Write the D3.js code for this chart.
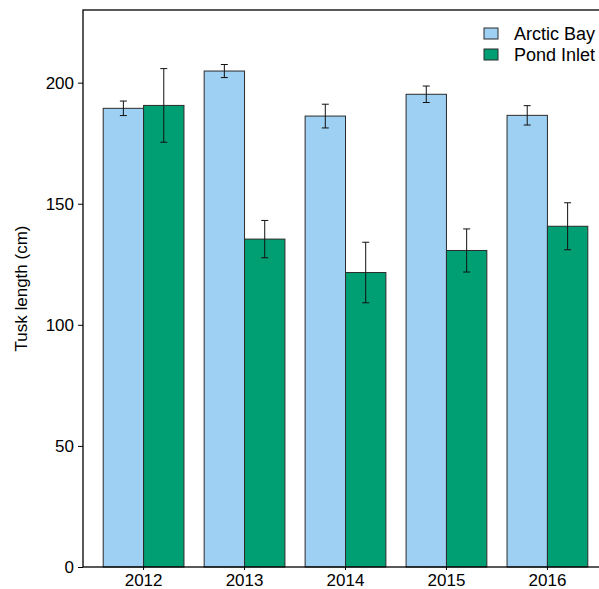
<!DOCTYPE html>
<html>
<head>
<meta charset="utf-8">
<script src="https://cdn.jsdelivr.net/npm/d3@7"></script>
<style>
  html, body { margin: 0; padding: 0; background: #fff; }
  svg { display: block; font-family: "Liberation Sans", Arial, sans-serif; }
</style>
</head>
<body>
<svg id="chart" width="599" height="589"></svg>
<script>
// Mean tusk length by year and community, with standard-error bars
const years = ["2012", "2013", "2014", "2015", "2016"];
const seriesNames = ["Arctic Bay", "Pond Inlet"];
const arcticBay = [189.4, 204.8, 186.2, 195.2, 186.5];
const arcticBayErr = [3.0, 2.7, 4.9, 3.4, 4.0];
const pondInlet = [190.6, 135.4, 121.6, 130.7, 140.7];
const pondInletErr = [15.2, 7.7, 12.5, 8.9, 9.7];
const yTicks = [0, 50, 100, 150, 200];
const colors = ["#9dd0f3", "#009e73"];
const yLabel = "Tusk length (cm)";

const svg = d3.select("#chart");
const plot = { left: 83, top: 10, right: 608, bottom: 567 };

const x = d3.scaleBand()
  .domain(years)
  .range([plot.left, plot.right])
  .paddingInner(0.2)
  .paddingOuter(0.2);

const xSub = d3.scaleBand()
  .domain(seriesNames)
  .range([0, x.bandwidth()]);

const y = d3.scaleLinear()
  .domain([0, 230])
  .range([plot.bottom, plot.top]);

const rows = years.map((yr, i) => ({
  year: yr,
  values: [
    { name: seriesNames[0], v: arcticBay[i], e: arcticBayErr[i], c: colors[0] },
    { name: seriesNames[1], v: pondInlet[i], e: pondInletErr[i], c: colors[1] }
  ]
}));

// bars
const groups = svg.append("g").selectAll("g")
  .data(rows).join("g")
  .attr("transform", d => `translate(${x(d.year)},0)`);

groups.selectAll("rect")
  .data(d => d.values).join("rect")
  .attr("x", d => xSub(d.name))
  .attr("y", d => y(d.v))
  .attr("width", xSub.bandwidth())
  .attr("height", d => y(0) - y(d.v))
  .attr("fill", d => d.c)
  .attr("stroke", "#2b2b2b")
  .attr("stroke-width", 1);

// error bars
const capHalf = 3.5;
const err = groups.selectAll("g.err")
  .data(d => d.values).join("g")
  .attr("class", "err")
  .attr("stroke", "#111")
  .attr("stroke-width", 1);
err.append("line")
  .attr("x1", d => xSub(d.name) + xSub.bandwidth() / 2)
  .attr("x2", d => xSub(d.name) + xSub.bandwidth() / 2)
  .attr("y1", d => y(d.v - d.e))
  .attr("y2", d => y(d.v + d.e));
err.append("line")
  .attr("x1", d => xSub(d.name) + xSub.bandwidth() / 2 - capHalf)
  .attr("x2", d => xSub(d.name) + xSub.bandwidth() / 2 + capHalf)
  .attr("y1", d => y(d.v + d.e))
  .attr("y2", d => y(d.v + d.e));
err.append("line")
  .attr("x1", d => xSub(d.name) + xSub.bandwidth() / 2 - capHalf)
  .attr("x2", d => xSub(d.name) + xSub.bandwidth() / 2 + capHalf)
  .attr("y1", d => y(d.v - d.e))
  .attr("y2", d => y(d.v - d.e));

// plot frame
svg.append("rect")
  .attr("x", plot.left)
  .attr("y", plot.top)
  .attr("width", plot.right - plot.left)
  .attr("height", plot.bottom - plot.top)
  .attr("fill", "none")
  .attr("stroke", "#000")
  .attr("stroke-width", 1.3);

// y axis
const yAxis = svg.append("g")
  .attr("transform", `translate(${plot.left},0)`)
  .call(d3.axisLeft(y).tickValues(yTicks).tickSize(5).tickPadding(4));
yAxis.select(".domain").remove();
yAxis.selectAll("line").attr("stroke", "#000");
yAxis.selectAll("text")
  .attr("font-size", 17)
  .attr("font-family", "Liberation Sans, Arial, sans-serif")
  .attr("fill", "#000");

// x axis
const xAxis = svg.append("g")
  .attr("transform", `translate(0,${plot.bottom})`)
  .call(d3.axisBottom(x).tickSize(3).tickPadding(4));
xAxis.select(".domain").remove();
xAxis.selectAll("line").attr("stroke", "#000");
xAxis.selectAll("text")
  .attr("font-size", 17)
  .attr("font-family", "Liberation Sans, Arial, sans-serif")
  .attr("fill", "#000");

// y axis title
svg.append("text")
  .attr("transform", `translate(27,${(plot.top + plot.bottom) / 2}) rotate(-90)`)
  .attr("text-anchor", "middle")
  .attr("font-size", 17)
  .attr("fill", "#000")
  .text(yLabel);

// legend
const legend = svg.append("g").attr("transform", "translate(484,28)");
const li = legend.selectAll("g")
  .data(seriesNames).join("g")
  .attr("transform", (d, i) => `translate(0,${i * 21})`);
li.append("rect")
  .attr("width", 14)
  .attr("height", 11)
  .attr("fill", (d, i) => colors[i])
  .attr("stroke", "#2b2b2b")
  .attr("stroke-width", 1);
li.append("text")
  .attr("x", 30)
  .attr("y", 12)
  .attr("font-size", 18)
  .attr("fill", "#000")
  .text(d => d);
</script>
</body>
</html>
